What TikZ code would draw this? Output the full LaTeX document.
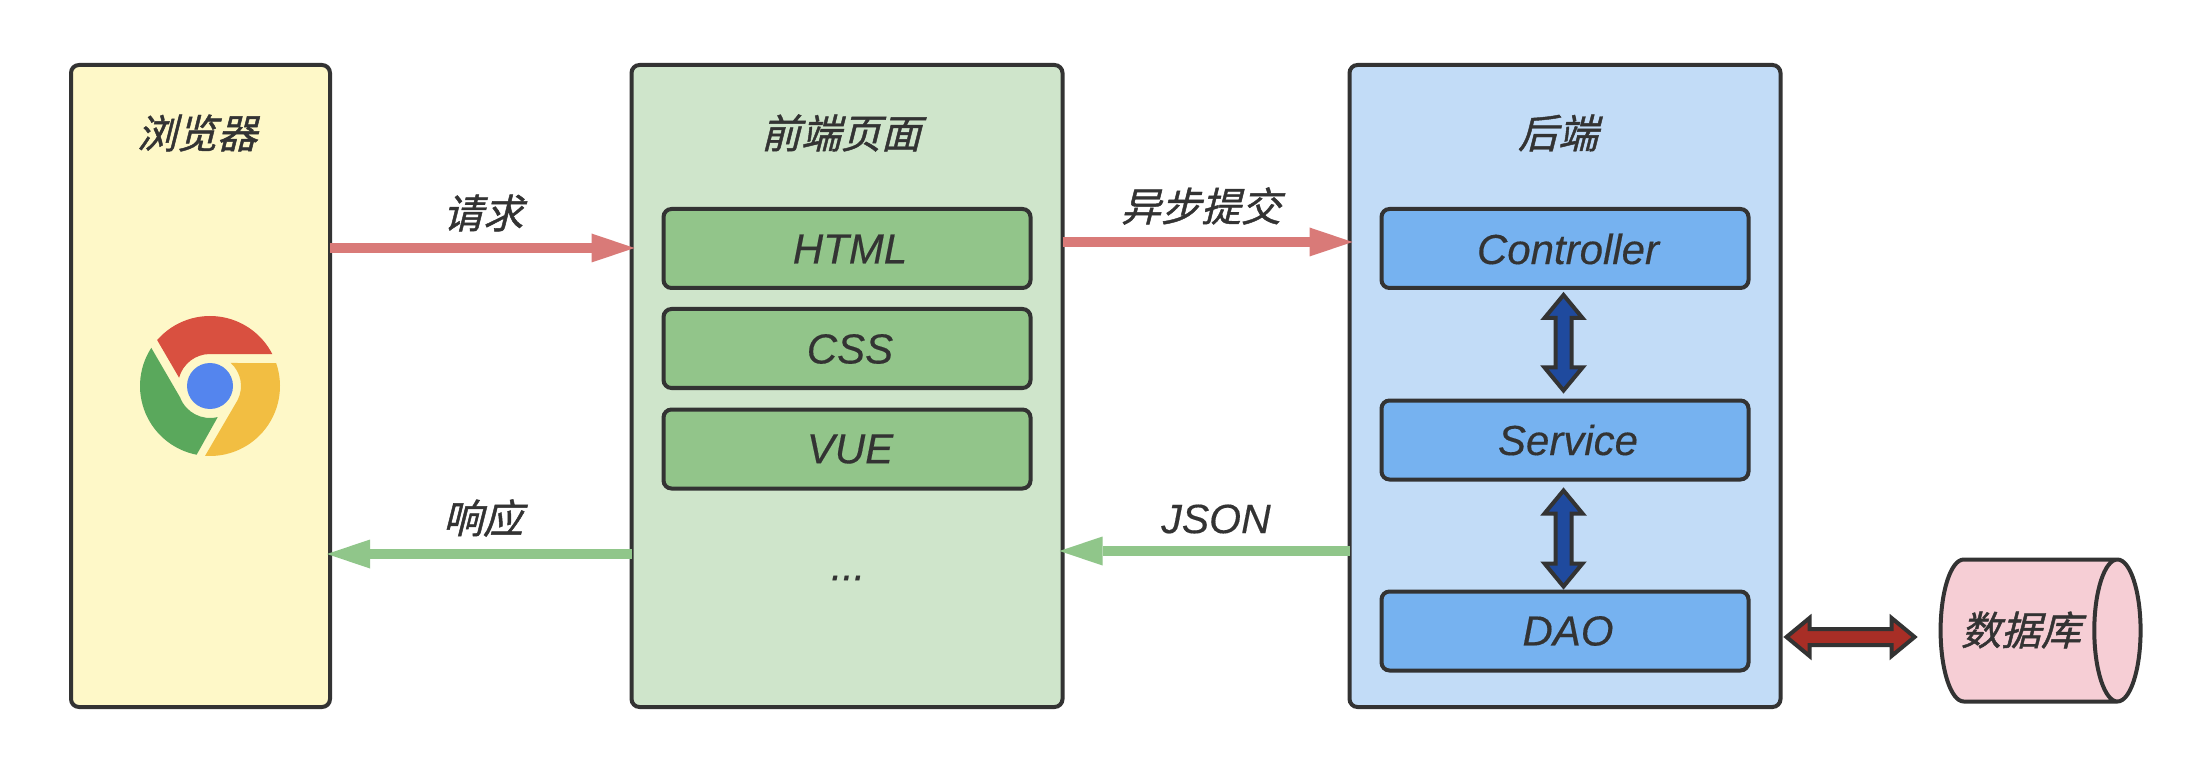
\documentclass[tikz,border=0pt]{standalone}
\usepackage{fontspec}
\setmainfont[ItalicFeatures={FakeBold=0.35}]{Liberation Sans}
\newfontfamily\cjk[FakeSlant=0.25,FakeBold=1.1]{Noto Sans CJK SC}
\usetikzlibrary{arrows.meta,calc,shapes.geometric}
\definecolor{ink}{HTML}{333333}
\definecolor{browserfill}{HTML}{FEF8C8}
\definecolor{frontfill}{HTML}{CFE5CB}
\definecolor{backfill}{HTML}{C2DCF7}
\definecolor{frontitem}{HTML}{92C58A}
\definecolor{backitem}{HTML}{76B2F0}
\definecolor{dbfill}{HTML}{F6CED5}
\definecolor{reqred}{HTML}{D97A78}
\definecolor{respgreen}{HTML}{90C68A}
\definecolor{linkblue}{HTML}{1F4A9E}
\definecolor{linkred}{HTML}{A82E26}
% point at distance #3 along #1->#2, offset #4 to the left of that direction
\newcommand{\fatpt}[4]{($($(#1)!#3!(#2)$)!#4!90:(#2)$)}
\tikzset{
  box/.style={draw=ink,line width=2pt,rounded corners=4pt,outer sep=0pt,inner sep=0pt,anchor=center},
  panel/.style={box,minimum width=#1,minimum height=321pt},
  item/.style={box,minimum width=183.5pt,minimum height=39.5pt},
  itemtext/.style={text=ink,inner sep=0pt,font=\fontsize{21}{24}\selectfont\itshape},
  lbl/.style={text=ink,inner sep=0pt,font=\fontsize{20}{24}\selectfont\cjk},
  latlbl/.style={text=ink,inner sep=0pt,font=\fontsize{20.5}{24}\selectfont\itshape},
  flow/.style={line width=4.75pt,draw=#1,shorten >=-1.5pt,-{Triangle[length=21.5pt,width=14.5pt,line width=0pt]}},
  fat link/.style={draw=ink,line width=2pt,fill=#1,miter limit=10,
    to path={
      -- \fatpt{\tikztostart}{\tikztotarget}{11.5pt}{9.5pt}
      -- \fatpt{\tikztostart}{\tikztotarget}{11.5pt}{4pt}
      -- \fatpt{\tikztotarget}{\tikztostart}{11.5pt}{-4pt}
      -- \fatpt{\tikztotarget}{\tikztostart}{11.5pt}{-9.5pt}
      -- (\tikztotarget)
      -- \fatpt{\tikztotarget}{\tikztostart}{11.5pt}{9.5pt}
      -- \fatpt{\tikztotarget}{\tikztostart}{11.5pt}{4pt}
      -- \fatpt{\tikztostart}{\tikztotarget}{11.5pt}{-4pt}
      -- \fatpt{\tikztostart}{\tikztotarget}{11.5pt}{-9.5pt}
      -- cycle}},
}
\begin{document}
\begin{tikzpicture}[x=0.5pt,y=-0.5pt]
\useasboundingbox[fill=white] (0,0) rectangle (2204,764);

% three main panels
\node[panel=129.5pt,fill=browserfill] (browser) at (200.5,386) {};
\node[panel=215.5pt,fill=frontfill] (front) at (847,386) {};
\node[panel=215.5pt,fill=backfill] (back) at (1565,386) {};

% panel titles
\node[lbl] (tbrowser) at (197,133) {浏览器};
\node[lbl] (tfront) at (841,133) {前端页面};
\node[lbl] (tback) at (1558,133) {后端};

% browser logo
\begin{scope}[shift={(210,386)},x=0.5pt,y=0.5pt]
  \fill[fill={rgb,255:red,217;green,80;blue,64}]
    (139:35pt) arc[start angle=139,end angle=27,radius=35pt]
    -- (0,32) arc[start angle=90,end angle=165,radius=16pt] -- cycle;
  \fill[fill={rgb,255:red,242;green,190;blue,66}]
    (19:35pt) arc[start angle=19,end angle=-94,radius=35pt]
    -- (-27:15.5pt) arc[start angle=-27,end angle=48,radius=15.5pt] -- cycle;
  \fill[fill={rgb,255:red,90;green,168;blue,92}]
    (147:35pt) arc[start angle=147,end angle=259,radius=35pt]
    -- (284:16pt) arc[start angle=284,end angle=201,radius=16pt] -- cycle;
  \fill[fill={rgb,255:red,84;green,133;blue,238}] (0,0) circle[radius=11.5pt];
\end{scope}

% front-end items
\node[item,fill=frontitem] (html) at (847,248.5) {};
\node[item,fill=frontitem] (css) at (847,348.5) {};
\node[item,fill=frontitem] (vue) at (847,449) {};
\node[itemtext] at (850,249) {HTML};
\node[itemtext] at (850,349) {CSS};
\node[itemtext] at (850,449) {VUE};
\node[latlbl] (more) at (848,578) {...};

% back-end items
\node[item,fill=backitem] (ctrl) at (1565,248.5) {};
\node[item,fill=backitem] (svc) at (1565,440) {};
\node[item,fill=backitem] (dao) at (1565,631) {};
\node[itemtext] at (1568,249) {Controller};
\node[itemtext] at (1568,440) {Service};
\node[itemtext] at (1568,631) {DAO};

% database: the phantom keeps the shape's proportions, the label sits left of centre
\node[cylinder,draw=ink,line width=2pt,fill=dbfill,shape aspect=1.25,outer sep=0pt,inner sep=0pt,
      minimum width=71pt,minimum height=100pt,font=\fontsize{20}{24}\selectfont\cjk] (db) at (2028,630.5) {\phantom{数据库}};
\node[lbl] (dblabel) at (2021,630) {数据库};

% flows between panels
\draw[flow=reqred] ([yshift=69pt]browser.east) -- ([yshift=69pt]front.west);
\draw[flow=reqred] ([yshift=72pt]front.east) -- ([yshift=72pt]back.west);
\draw[flow=respgreen] ([yshift=-84pt]front.west) -- ([yshift=-84pt]browser.east);
\draw[flow=respgreen] ([yshift=-82.5pt]back.west) -- ([yshift=-82.5pt]front.east);

% flow labels
\node[lbl] (lreq) at (483,213) {请求};
\node[lbl] (lsubmit) at (1201,206) {异步提交};
\node[lbl] (lresp) at (483,518) {响应};
\node[latlbl] (ljson) at (1216,519) {JSON};

% two-way links
\path[fat link=linkblue] ([xshift=-.75pt,yshift=-3.5pt]ctrl.south) to ([xshift=-.75pt,yshift=5pt]svc.north);
\path[fat link=linkblue] ([xshift=-.75pt,yshift=-5.5pt]svc.south) to ([xshift=-.75pt,yshift=2.5pt]dao.north);
\path[fat link=linkred] ([xshift=3pt,yshift=-125.5pt]back.east) to ([xshift=-13pt,yshift=-3.25pt]db.west);
\end{tikzpicture}
\end{document}
